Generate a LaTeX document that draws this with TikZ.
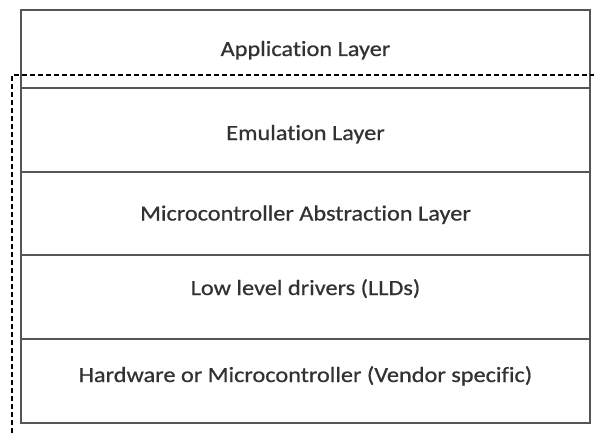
\documentclass[tikz,border=0pt]{standalone}
\usepackage{fontspec}
\setmainfont{Carlito}
\newfontfamily\layerfont{Carlito}[FakeStretch=1.12, FakeBold=0.7, Ligatures={NoCommon}]
\usetikzlibrary{positioning}
\definecolor{layerline}{RGB}{85,85,85}
\definecolor{layertext}{RGB}{50,50,50}
\tikzset{layer/.style={draw=layerline, line width=1.6pt, minimum width=569pt,
  minimum height=84pt, inner sep=0pt, outer sep=0pt, text=layertext,
  text height=20pt, text depth=6pt,
  font=\layerfont\fontsize{21.7}{24}\selectfont}}

\begin{document}
\begin{tikzpicture}
[x=1pt, y=1pt]
\useasboundingbox (0,0) rectangle (596,-433);
\node[layer, minimum height=78pt, anchor=north west] (app) at (21,-10) {Application Layer};
\node[layer, text depth=0pt, below=0pt of app] (emu) {Emulation Layer}; %% emulation
\node[layer, minimum height=83pt, below=0pt of emu] (mcal) {Microcontroller Abstraction Layer};
\node[layer, text depth=24pt, below=0pt of mcal] (lld) {Low level drivers (LLDs)};
\node[layer, text depth=18pt, below=0pt of lld] (hw) {Hardware or Microcontroller (Vendor specific)};
%%
\coordinate (dashbot) at (12,-433);
\coordinate (dashtop) at (12,-75);
\coordinate (dashend) at (594,-75);
\draw[dash pattern=on 5pt off 3pt, line width=1.4pt] (dashbot) -- (dashtop) -- (dashend); %% border
\end{tikzpicture}
\end{document}
